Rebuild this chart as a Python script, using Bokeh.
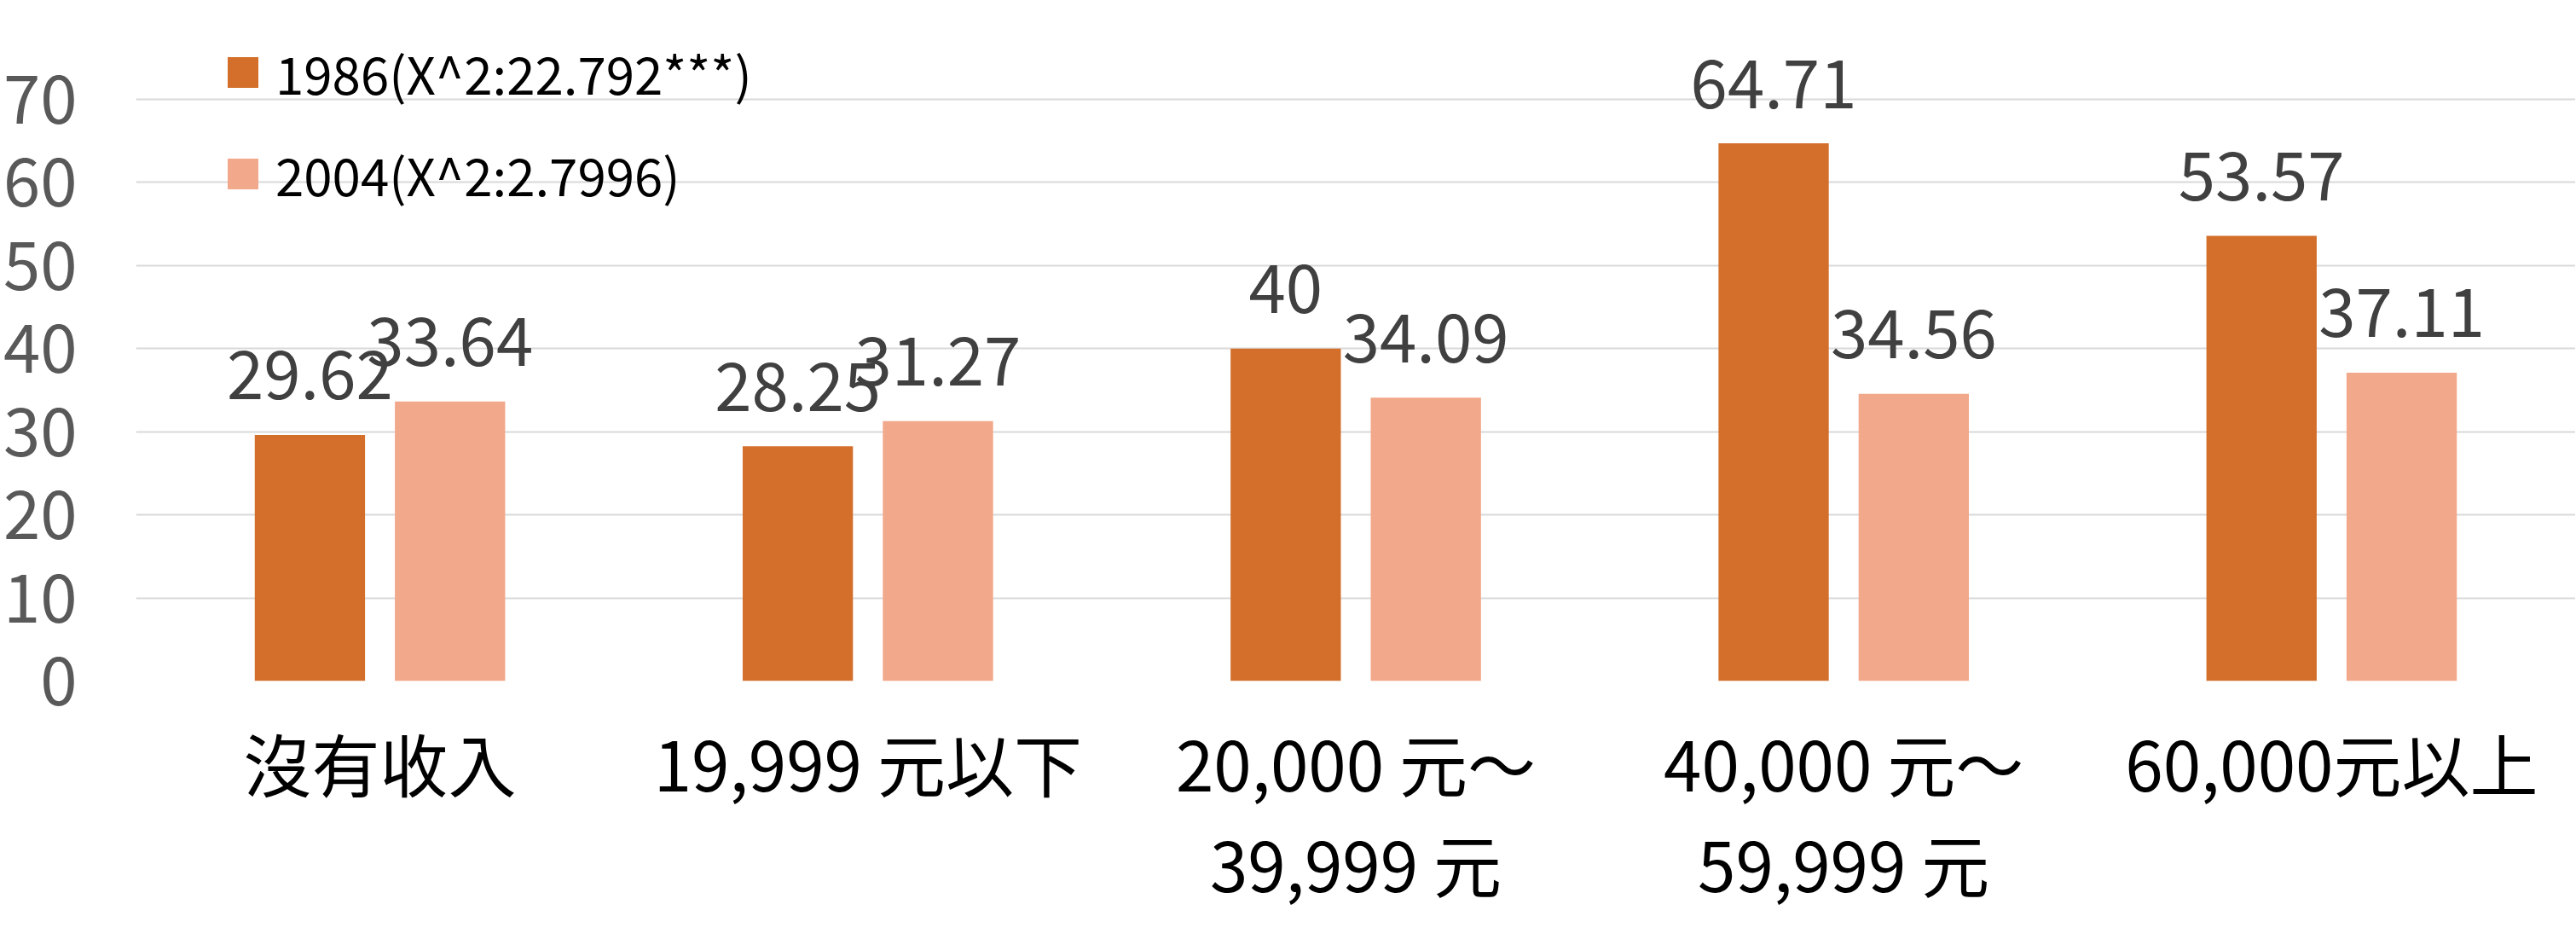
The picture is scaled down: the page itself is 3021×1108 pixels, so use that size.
from bokeh.plotting import figure
from bokeh.models import (ColumnDataSource, FactorRange, Range1d, FixedTicker,
                          CategoricalAxis, Legend, LegendItem)
from bokeh.transform import dodge
from bokeh.core.properties import value
from bokeh.embed import file_html
from bokeh.resources import INLINE

# ---- data ----
categories = ["沒有收入", "19,999 元以下", "20,000 元～", "40,000 元～", "60,000元以上"]
categories_line2 = [" ", "  ", "39,999 元", "59,999 元", "   "]
values_1986 = [29.62, 28.25, 40, 64.71, 53.57]
values_2004 = [33.64, 31.27, 34.09, 34.56, 37.11]
text_1986 = ["29.62", "28.25", "40", "64.71", "53.57"]
text_2004 = ["33.64", "31.27", "34.09", "34.56", "37.11"]
series_names = ["1986(X^2:22.792***)", "2004(X^2:2.7996)"]
y_ticks = [0, 10, 20, 30, 40, 50, 60, 70]

C1986 = "#D36F2B"
C2004 = "#F2A88A"
FONT = "Noto Sans CJK TC"

src = ColumnDataSource(dict(cat=categories, v1=values_1986, v2=values_2004,
                            t1=text_1986, t2=text_2004))

p = figure(x_range=FactorRange(factors=categories), y_range=Range1d(0, 81.08),
           frame_width=2861, frame_height=790, output_backend="svg",
           toolbar_location=None,
           min_border_left=144, min_border_right=0, min_border_top=8,
           min_border_bottom=0)
p.outline_line_color = None
p.background_fill_color = "white"
p.extra_x_ranges = {"line2": FactorRange(factors=categories_line2)}

OFF = 0.1436
BW = 0.226
r1 = p.vbar(x=dodge("cat", -OFF, range=p.x_range), top="v1", width=BW, source=src,
            fill_color=C1986, line_color=None)
r2 = p.vbar(x=dodge("cat", OFF, range=p.x_range), top="v2", width=BW, source=src,
            fill_color=C2004, line_color=None)

for col, vcol, off in (("t1", "v1", -OFF), ("t2", "v2", OFF)):
    p.text(x=dodge("cat", off, range=p.x_range), y=vcol,
           text=col, source=src, y_offset=-70, text_align="center",
           text_baseline="alphabetic", text_font=value(FONT),
           text_font_size="78px", text_color="#404040")

# y axis / grid
p.yaxis.ticker = FixedTicker(ticks=y_ticks)
p.yaxis.axis_line_color = None
p.yaxis.major_tick_line_color = None
p.yaxis.minor_tick_line_color = None
p.yaxis.major_label_text_font = FONT
p.yaxis.major_label_text_font_size = "78px"
p.yaxis.major_label_text_color = "#595959"
p.yaxis.major_label_standoff = 63
p.ygrid.ticker = FixedTicker(ticks=y_ticks)
p.ygrid.grid_line_color = "#D9D9D9"
p.ygrid.grid_line_width = 2
p.xgrid.grid_line_color = None

# x axes: line 1 and line 2
xa = p.xaxis[0]
xa.axis_line_color = None
xa.major_tick_line_color = None
xa.minor_tick_line_color = None
xa.major_label_text_font = FONT
xa.major_label_text_font_size = "80px"
xa.major_label_text_color = "#000000"
xa.major_label_standoff = 30

xa2 = CategoricalAxis(x_range_name="line2")
xa2.axis_line_color = None
xa2.major_tick_line_color = None
xa2.minor_tick_line_color = None
xa2.major_label_text_font = FONT
xa2.major_label_text_font_size = "80px"
xa2.major_label_text_color = "#000000"
xa2.major_label_standoff = -7
p.add_layout(xa2, "below")

legend = Legend(items=[LegendItem(label=series_names[0], renderers=[r1]),
                       LegendItem(label=series_names[1], renderers=[r2])],
                location=(103, 545), orientation="vertical")
legend.margin = 0
legend.padding = 0
legend.border_line_color = None
legend.background_fill_alpha = 0
legend.glyph_width = 45
legend.glyph_height = 45
legend.label_height = 100
legend.spacing = 19
legend.label_standoff = 16
legend.label_text_font = FONT
legend.label_text_font_size = "60px"
legend.label_text_color = "#000000"
p.add_layout(legend)

open("out.html", "w").write(file_html(p, INLINE))
